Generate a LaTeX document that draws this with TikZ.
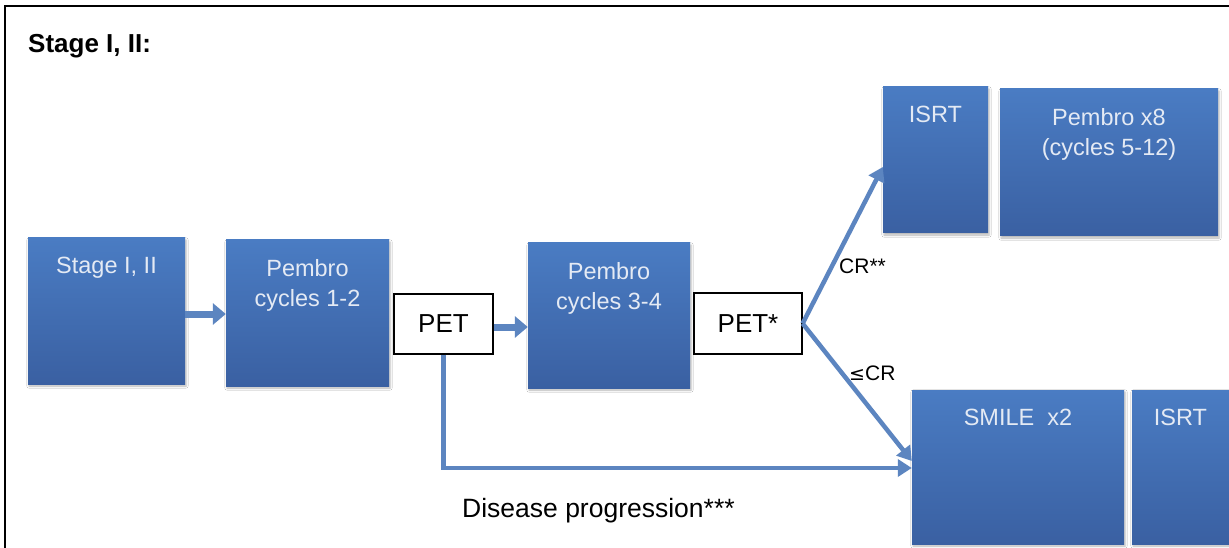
\documentclass[tikz,border=0pt]{standalone}
\usepackage{fontspec}
\setmainfont{Liberation Sans}
\usetikzlibrary{arrows.meta,shadows.blur}

\definecolor{boxtop}{HTML}{4A7CC3}
\definecolor{boxbot}{HTML}{3A60A2}
\definecolor{boxtxt}{HTML}{E4EAF4}
\definecolor{flow}{HTML}{5C85C0}

\tikzset{
  bluebox/.style={rectangle, inner sep=0pt, top color=boxtop, bottom color=boxbot,
    blur shadow={shadow xshift=1pt, shadow yshift=-2pt, shadow blur steps=4, shadow opacity=30}},
  boxtext/.style={text=boxtxt, inner sep=0pt, align=center,
    font=\fontsize{23.5pt}{30pt}\selectfont},
  petbox/.style={rectangle, draw=black, line width=1.2pt, fill=white, inner sep=0pt,
    font=\fontsize{26pt}{30pt}\selectfont},
  branchlabel/.style={inner sep=0pt, anchor=base west, font=\fontsize{21pt}{25pt}\selectfont},
  fatarrow/.style={draw=flow, line width=7pt, -{Triangle[length=13pt,width=21pt]}},
  flowline/.style={draw=flow, line width=4.5pt, -{Triangle[length=14pt,width=17pt]}},
}

\begin{document}
\begin{tikzpicture}[x=1pt, y=-1pt]
  \useasboundingbox (0,0) rectangle (1229,548);
  \fill[white] (0,0) rectangle (1229,548);

  % frame
  \draw[line width=2.2pt, black] (5,548) -- (5,6) -- (1229,6);

  % heading
  \node[anchor=base west, inner sep=0pt, font=\bfseries\fontsize{26pt}{30pt}\selectfont]
    (title) at (28,53) {Stage I, II:};

  % treatment blocks
  \node[bluebox, minimum width=157pt, minimum height=146pt,
        label={[boxtext, anchor=north, yshift=-19pt]north:Stage I, II}] (stage) at (106.5,311) {};
  \node[bluebox, minimum width=163pt, minimum height=146pt,
        label={[boxtext, anchor=north, yshift=-19pt]north:Pembro\\cycles 1-2}] (p12) at (307.5,313) {};
  \node[bluebox, minimum width=162pt, minimum height=145pt,
        label={[boxtext, anchor=north, yshift=-19pt]north:Pembro\\cycles 3-4}] (p34) at (609,315.5) {};
  \node[bluebox, minimum width=105pt, minimum height=146pt,
        label={[boxtext, anchor=north, yshift=-19pt]north:ISRT}] (isrt1) at (935.5,160) {};
  \node[bluebox, minimum width=218pt, minimum height=147pt,
        label={[boxtext, anchor=north, yshift=-19pt]north:Pembro x8\\(cycles 5-12)}] (p8) at (1109,162.5) {};
  \node[bluebox, minimum width=212pt, minimum height=154pt,
        label={[boxtext, anchor=north, yshift=-19pt]north:SMILE\ \ x2}] (smile) at (1018,467) {};
  \node[bluebox, minimum width=97pt, minimum height=154pt,
        label={[boxtext, anchor=north, yshift=-19pt]north:ISRT}] (isrt2) at (1180.5,467) {};

  % imaging checkpoints
  \node[petbox, minimum width=99pt, minimum height=60pt] (pet1) at (443.5,324) {PET};
  \node[petbox, minimum width=108pt, minimum height=61pt] (pet2) at (748,323.5) {PET*};

  % connectors
  \draw[fatarrow] ([yshift=-3pt]stage.east) -- ([yshift=-3pt]stage.east -| p12.west);
  \draw[fatarrow] ([yshift=-3pt]pet1.east) -- ([yshift=-3pt]pet1.east -| p34.west);
  \draw[flowline, line join=round] (pet2.east) -- ([yshift=-7pt]isrt1.west);
  \draw[flowline, line join=round] (pet2.east) -- ([yshift=6pt]smile.west);
  \draw[flowline] (pet1.south) |- ([yshift=-1pt]smile.west);

  % branch labels
  \node[branchlabel] (cr) at (839,273) {CR**};
  \node[branchlabel] (lecr) at (849,380) {{\fontspec{DejaVu Sans}\fontsize{19pt}{25pt}\selectfont ≤}CR};
  \node[anchor=base west, inner sep=0pt, font=\fontsize{26.5pt}{30pt}\selectfont]
    (prog) at (462,517) {Disease progression***};
\end{tikzpicture}
\end{document}
